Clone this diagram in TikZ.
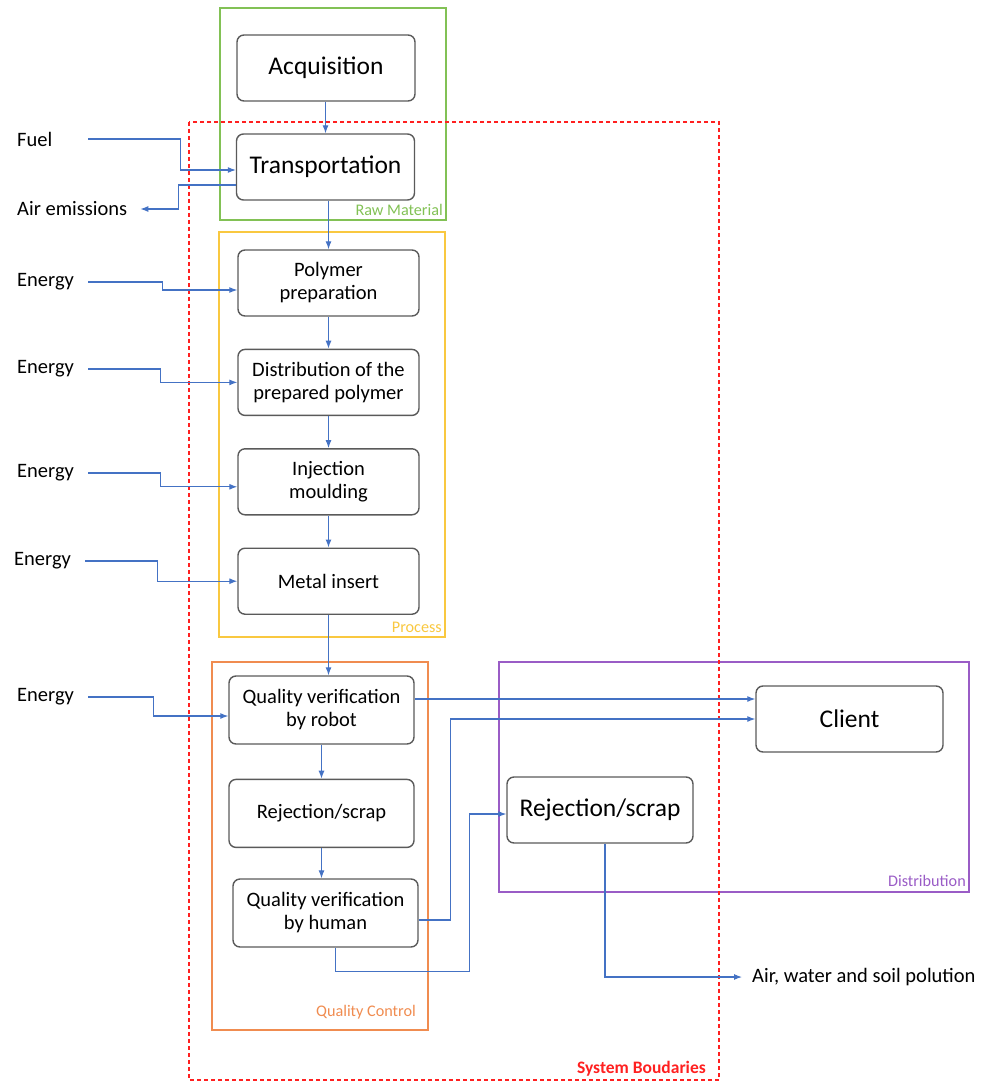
\documentclass[tikz,border=0pt]{standalone}
\usepackage{fontspec}
\setmainfont{Carlito}
\definecolor{FlowBlue}{HTML}{4472C4}
\definecolor{BoxGray}{HTML}{5A5A5A}
\definecolor{RawGreen}{HTML}{82C155}
\definecolor{ProcYellow}{HTML}{F9C840}
\definecolor{QcOrange}{HTML}{F08C50}
\definecolor{DistPurple}{HTML}{9A5CC6}
\definecolor{SysRed}{HTML}{FF2020}
\usetikzlibrary{arrows.meta,positioning}

\begin{document}
\begin{tikzpicture}[
  x=1pt,y=-1pt,
  node distance=32pt,
  box/.style={draw=BoxGray,line width=1.4pt,rounded corners=7pt,fill=white,minimum width=181pt,minimum height=66pt,align=center,font=\fontsize{20.5}{23}\selectfont},
  bigbox/.style={box,font=\fontsize{25.5}{30}\selectfont},
  side/.style={anchor=west,inner sep=0pt,font=\fontsize{20.5}{24}\selectfont},
  tag/.style={anchor=south east,inner sep=0pt,font=\fontsize{16.2}{19}\selectfont},
  frame/.style={line width=1.3pt},
  arr/.style={-{Latex[length=8pt,width=6pt]},line width=1.1pt,color=FlowBlue}
]
\useasboundingbox (0,0) rectangle (988,1083);

\draw[frame,RawGreen] (220,8) rectangle (446,220);
\draw[frame,ProcYellow] (219,232) rectangle (445,637);
\draw[frame,QcOrange] (212,662) rectangle (428,1030);
\draw[frame,DistPurple] (499,662) rectangle (969,892);
\draw[frame,SysRed,dash pattern=on 4pt off 3pt] (189,122) rectangle (719,1080);

\node[tag,RawGreen] (rawtag) at (443,216) {Raw Material};
\node[tag,ProcYellow] (proctag) at (442,633) {Process};
\node[tag,QcOrange] (qctag) at (416,1019) {Quality Control};
\node[tag,DistPurple] (disttag) at (966,887) {Distribution};
\node[tag,SysRed,font=\fontsize{17.5}{20}\selectfont\bfseries] (systag) at (706,1076) {System Boudaries};

\node[bigbox,minimum width=178pt] (acq) at (326,68) {Acquisition};
\node[bigbox,minimum width=178pt] (trans) at (325.5,167) {Transportation};
\node[box] (poly) at (328.5,283) {Polymer\\preparation};
\node[box,below=of poly] (dist) {Distribution of the\\prepared polymer};
\node[box,below=of dist] (inj) {Injection\\moulding};
\node[box,below=of inj] (metal) {Metal insert};
\node[box,minimum width=185pt,minimum height=68pt] (robot) at (321.5,710) {Quality verification\\by robot};
\node[box,minimum width=185pt,minimum height=68pt,below=34pt of robot] (rej) {Rejection/scrap};
\node[box,minimum width=185pt,minimum height=68pt] (human) at (325.5,913) {Quality verification\\by human};
\node[bigbox,minimum width=187pt] (client) at (849.5,719) {Client};
\node[bigbox,minimum width=186pt] (rejout) at (600,810) {Rejection/scrap};

\node[side] (fuel) at (17,139) {Fuel};
\node[side] (air) at (17,209) {Air emissions};
\node[side] (en1) at (17,282) {Energy};
\node[side] (en2) at (17,369) {Energy};
\node[side] (en3) at (17,473) {Energy};
\node[side] (en4) at (14,561) {Energy};
\node[side] (en5) at (17,697) {Energy};
\node[side] (pol) at (752,977) {Air, water and soil polution};

\draw[arr] (acq.south -| trans) -- (trans.north);
\draw[arr] (trans.south -| poly) -- (poly.north);
\draw[arr] (poly) -- (dist);
\draw[arr] (dist) -- (inj);
\draw[arr] (inj) -- (metal);
\draw[arr] (metal.south) -- (metal.south |- robot.north);
\draw[arr] (robot) -- (rej);
\draw[arr] (rej.south) -- (rej.south |- human.north);
\draw[arr] ([xshift=36pt]fuel.east) -- ++(92,0) |- ([yshift=-3pt]trans.west);
\draw[arr] ([yshift=-18pt]trans.west) -- ++(-57,0) |- ([xshift=13pt]air.east);
\draw[arr] ([xshift=14pt]en1.east) -- ++(74,0) |- ([yshift=-7pt]poly.west);
\draw[arr] ([xshift=14pt]en2.east) -- ++(72,0) |- (dist.west);
\draw[arr] ([xshift=14pt]en3.east) -- ++(72,0) |- ([yshift=-5pt]inj.west);
\draw[arr] ([xshift=14pt]en4.east) -- ++(72,0) |- (metal.west);
\draw[arr] ([xshift=14pt]en5.east) -- ++(65,0) |- ([yshift=-6pt]robot.west);
\draw[arr] ([yshift=11pt]robot.east) -- ([yshift=11pt]robot.east -| client.west);
\draw[arr] ([yshift=-7pt]human.east) -- ++(32,0) |- (client.west);
\draw[arr] ([xshift=10pt]human.south) |- ++(134,24) |- ([yshift=-4pt]rejout.west);
\draw[arr] ([xshift=5pt]rejout.south) |- ([xshift=-10pt]pol.west);
\end{tikzpicture}
\end{document}
